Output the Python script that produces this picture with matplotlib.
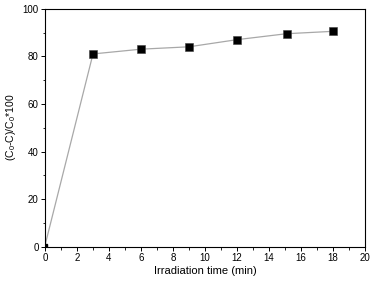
import matplotlib
matplotlib.use("Agg")
import matplotlib.pyplot as plt
from matplotlib.ticker import MultipleLocator

time_min = [0, 3, 6, 9, 12, 15.1, 18]
removal = [0.5, 81, 83, 84, 87, 89.5, 90.5]

plt.rcParams['font.family'] = ['Liberation Sans', 'DejaVu Sans']
plt.rcParams['mathtext.fontset'] = 'custom'
plt.rcParams['mathtext.rm'] = 'Liberation Sans'

fig = plt.figure(figsize=(3.73, 2.85), dpi=100)
ax = fig.add_axes([0.1206, 0.1344, 0.858, 0.835])
ax.plot(time_min, removal, color='#a8a8a8', lw=0.9, zorder=1)
ax.plot(time_min[1:], removal[1:], ls='none', marker='s', ms=5.6, mfc='black', mec='#404040', mew=0.4, zorder=2)
ax.plot(time_min[:1], removal[:1], ls='none', marker='s', ms=2.5, mfc='black', mec='black', zorder=2)

ax.set_xlim(0, 20)
ax.set_ylim(0, 100)
ax.xaxis.set_major_locator(MultipleLocator(2))
ax.xaxis.set_minor_locator(MultipleLocator(1))
ax.yaxis.set_major_locator(MultipleLocator(20))
ax.yaxis.set_minor_locator(MultipleLocator(10))
ax.tick_params(which='major', direction='out', length=3, width=0.7, labelsize=7, pad=1.5, top=False, right=False)
ax.tick_params(which='minor', direction='out', length=1.8, width=0.6, top=False, right=False)
for s in ax.spines.values():
    s.set_linewidth(0.8)
ax.set_xlabel('Irradiation time (min)', fontsize=8, labelpad=2)
ax.set_ylabel(r'(C$_\mathrm{0}$-C)/C$_\mathrm{0}$*100', fontsize=7.5, labelpad=3)

fig.savefig('out.png', dpi=100)
